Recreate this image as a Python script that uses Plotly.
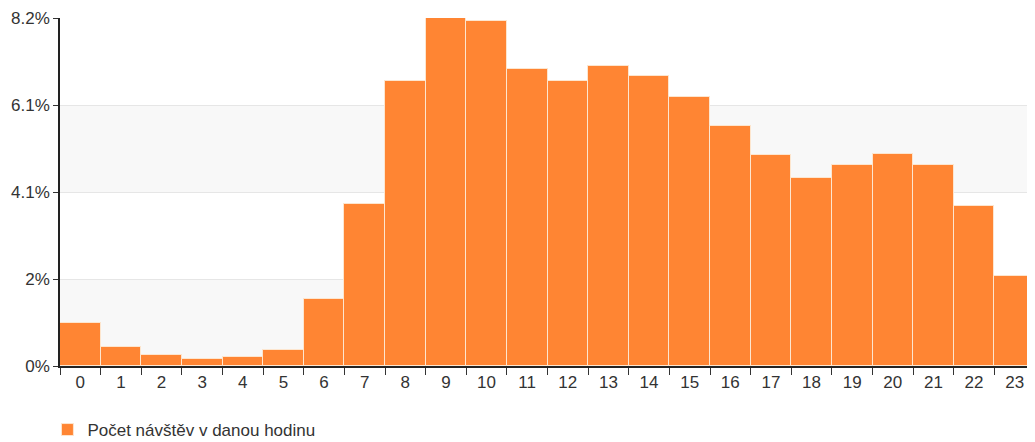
import plotly.graph_objects as go

hours = [str(h) for h in range(24)]
visits_pct = [1.01, 0.45, 0.26, 0.16, 0.21, 0.37, 1.59, 3.82, 6.72, 8.20, 8.13, 7.00,
              6.72, 7.08, 6.84, 6.33, 5.65, 4.97, 4.43, 4.73, 4.99, 4.73, 3.77, 2.11]
series_name = "Počet návštěv v danou hodinu"
tick_vals = [0, 2.05, 4.1, 6.15, 8.2]
tick_text = ["0%", "2%", "4.1%", "6.1%", "8.2%"]
band_color = "#f8f8f8"
bar_color = "#ff8533"

fig = go.Figure()
fig.add_trace(go.Bar(
    x=hours, y=visits_pct, name=series_name,
    marker=dict(color=bar_color, line=dict(color="#fde6cf", width=1)),
    showlegend=True,
))

shapes = []
for i in range(len(tick_vals) - 1):
    if i % 2 == 0:
        shapes.append(dict(type="rect", xref="paper", yref="y", x0=0, x1=1,
                           y0=tick_vals[i], y1=tick_vals[i + 1],
                           fillcolor=band_color, line=dict(width=0), layer="below"))

fig.update_layout(
    width=1027, height=440,
    margin=dict(l=52, r=0, t=10, b=80),
    paper_bgcolor="white", plot_bgcolor="white",
    bargap=0,
    shapes=shapes,
    font=dict(family="Liberation Sans, Arial, sans-serif", size=17, color="#333333"),
    showlegend=True,
    legend=dict(orientation="h", x=-0.0129, xanchor="left", y=-0.185, yanchor="middle",
                font=dict(size=17, color="#333333"), bgcolor="rgba(0,0,0,0)"),
    xaxis=dict(type="category", range=[-0.5, 23.5], showline=True, linecolor="#222222",
               linewidth=1.5, ticks="outside", tickson="boundaries", ticklen=7,
               tickcolor="#333333", tickfont=dict(size=17, color="#333333"),
               showgrid=False, fixedrange=True),
    yaxis=dict(range=[0, 8.2], tickvals=tick_vals, ticktext=tick_text,
               showline=True, linecolor="#222222", linewidth=1.5,
               ticks="outside", ticklen=5, tickcolor="#333333",
               showgrid=True, gridcolor="#e6e6e6", gridwidth=1,
               zeroline=False, tickfont=dict(size=17, color="#333333")),
)

fig.write_html("out.html")
